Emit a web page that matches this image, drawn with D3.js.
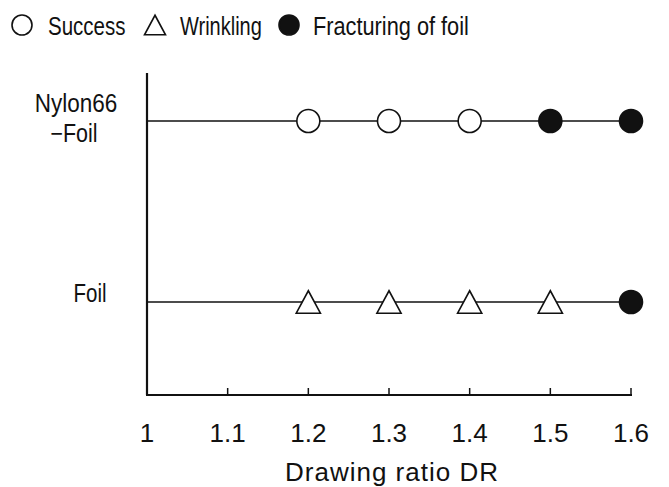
<!DOCTYPE html>
<html>
<head>
<meta charset="utf-8">
<script src="https://cdn.jsdelivr.net/npm/d3@7"></script>
<style>
  html, body { margin: 0; padding: 0; background: #fff; }
  svg { display: block; }
  text { font-family: "Liberation Sans", Arial, sans-serif; fill: #111; }
</style>
</head>
<body>
<svg id="chart" width="669" height="487"></svg>
<script>
// Specimen rows (top to bottom) and their vertical level
const rows = ["Nylon66\n\u2212Foil", "Foil"];
const rowLevels = [1, 0];

// Drawing ratios tested
const ratios = [1.2, 1.3, 1.4, 1.5, 1.6];

// Outcome at each ratio for each row
const nylonFoilResults = ["success", "success", "success", "fracture", "fracture"];
const foilResults = ["wrinkle", "wrinkle", "wrinkle", "wrinkle", "fracture"];

// Axis ticks
const xTicks = [1, 1.1, 1.2, 1.3, 1.4, 1.5, 1.6];

// Legend entries
const legendKeys = ["success", "wrinkle", "fracture"];
const legendLabels = ["Success", "Wrinkling", "Fracturing of foil"];

const svg = d3.select("#chart");

const x = d3.scaleLinear().domain([1, 1.6]).range([147, 631]);
const y = d3.scaleLinear().domain([-0.514, 1.265]).range([395, 73]);

const ink = "#111";

function drawMarker(g, kind, cx, cy, r) {
  if (kind === "wrinkle") {
    const h = r * 1.95;
    const w = r * 2.1;
    g.append("path")
      .attr("d", `M${cx},${cy - h / 2} L${cx + w / 2},${cy + h / 2} L${cx - w / 2},${cy + h / 2} Z`)
      .attr("fill", "#fff").attr("stroke", ink).attr("stroke-width", 1.6)
      .attr("stroke-linejoin", "miter");
  } else {
    g.append("circle")
      .attr("cx", cx).attr("cy", cy).attr("r", r)
      .attr("fill", kind === "fracture" ? ink : "#fff")
      .attr("stroke", ink).attr("stroke-width", 1.6);
  }
}

// Axes frame
svg.append("line")
  .attr("x1", x(1)).attr("x2", x(1))
  .attr("y1", y.range()[1]).attr("y2", y.range()[0])
  .attr("stroke", ink).attr("stroke-width", 2.2);

svg.append("line")
  .attr("x1", x(1) - 1).attr("x2", x(1.6) + 1)
  .attr("y1", y.range()[0]).attr("y2", y.range()[0])
  .attr("stroke", ink).attr("stroke-width", 2.2);

// Inward tick marks on the x axis
svg.selectAll(".xtick")
  .data(xTicks.slice(1))
  .join("line")
  .attr("x1", d => x(d)).attr("x2", d => x(d))
  .attr("y1", y.range()[0]).attr("y2", y.range()[0] - 7)
  .attr("stroke", ink).attr("stroke-width", 1.5);

// Tick labels
svg.selectAll(".xlabel")
  .data(xTicks)
  .join("text")
  .attr("x", d => x(d))
  .attr("y", 442)
  .attr("text-anchor", "middle")
  .attr("font-size", 26)
  .text(d => String(d));

// Axis title
svg.append("text")
  .attr("x", (x(1) + x(1.6)) / 2 + 3)
  .attr("y", 481)
  .attr("text-anchor", "middle")
  .attr("font-size", 26)
  .attr("letter-spacing", 1)
  .text("Drawing ratio DR");

// Row labels (slightly condensed face)
rows.forEach((label, i) => {
  const lines = label.split("\n");
  const yc = y(rowLevels[i]);
  if (lines.length === 1) {
    svg.append("g").attr("transform", `translate(90,${yc}) scale(0.82,1)`)
      .append("text").attr("text-anchor", "middle").attr("font-size", 25)
      .text(lines[0]);
  } else {
    svg.append("g").attr("transform", `translate(76,${yc - 9}) scale(0.9,1)`)
      .append("text").attr("text-anchor", "middle").attr("font-size", 25)
      .text(lines[0]);
    svg.append("g").attr("transform", `translate(74,${yc + 21}) scale(0.86,1)`)
      .append("text").attr("text-anchor", "middle").attr("font-size", 25)
      .text(lines[1]);
  }
});

// Row lines and outcome markers
const results = [nylonFoilResults, foilResults];
rows.forEach((_, i) => {
  const yc = y(rowLevels[i]);
  svg.append("line")
    .attr("x1", x(1)).attr("x2", x(1.6))
    .attr("y1", yc).attr("y2", yc)
    .attr("stroke", ink).attr("stroke-width", 1.4);
  const g = svg.append("g");
  ratios.forEach((r, j) => drawMarker(g, results[i][j], x(r), yc, 11.5));
});

// Legend (condensed face)
const legendMarkerX = [22, 155, 289];
const legendTextX = [48, 180, 313];
const legendScale = [0.82, 0.8, 0.87];
const lg = svg.append("g");
legendKeys.forEach((k, i) => {
  drawMarker(lg, k, legendMarkerX[i], 25, 10);
  lg.append("g")
    .attr("transform", `translate(${legendTextX[i]},35) scale(${legendScale[i]},1)`)
    .append("text")
    .attr("font-size", 25)
    .text(legendLabels[i]);
});
</script>
</body>
</html>
